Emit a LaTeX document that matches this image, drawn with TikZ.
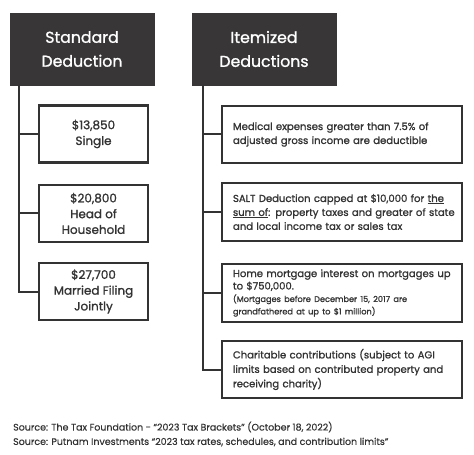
\documentclass[tikz,border=0pt]{standalone}
\usepackage{fontspec}
\setmainfont{Poppins}[FakeBold=1.2]
\newfontfamily\srcfont{Poppins}[FakeBold=0.5]
\definecolor{hdr}{HTML}{383636}
\definecolor{ink}{HTML}{333333}
\begin{document}
\begin{tikzpicture}[x=1bp,y=-1bp,
  hdrbox/.style={fill=hdr, draw=hdr, minimum width=144bp, minimum height=72bp, text=white,
    font=\fontsize{15.8}{24}\selectfont, align=center, inner sep=0pt},
  lbox/.style={draw=ink, line width=2.6bp, fill=white, minimum width=109bp, minimum height=57bp,
    font=\fontsize{12}{15.8}\selectfont, align=center, text=ink, inner sep=0pt},
  rbox/.style={draw=ink, line width=2.6bp, fill=white, minimum width=240bp, minimum height=57bp,
    text width=218bp, inner xsep=11bp, inner ysep=0pt, align=left, text=ink,
    font=\fontsize{10.1}{14}\selectfont},
  conn/.style={draw=ink, line width=2bp},
  src/.style={anchor=west, text=ink, font=\srcfont\fontsize{9.5}{11}\selectfont, inner sep=0pt}]
\useasboundingbox (0,0) rectangle (474,455);
% headers
\node[hdrbox] (hl) at (82,49) {Standard\\Deduction};
\node[hdrbox] (hr) at (264,49) {Itemized\\Deductions};
\coordinate (tl) at (19,85);
\coordinate (tr) at (203,85);
% left boxes
\node[lbox] (l1) at (93.5,134) {\$13,850\\Single};
\node[lbox] (l2) at (93.5,213.5) {\$20,800\\Head of\\Household};
\node[lbox] (l3) at (93.5,291.5) {\$27,700\\Married Filing\\Jointly};
% right boxes
\node[rbox] (r1) at (342,134.5) {\mbox{Medical expenses greater than 7.5\% of}\\\mbox{adjusted gross income are deductible}};
\node[rbox, minimum height=58bp] (r2) at (342,212) {\mbox{SALT Deduction capped at \$10,000 for \underline{the}}\\\mbox{\underline{sum of}: property taxes and greater of state}\\\mbox{and local income tax or sales tax}};
\node[rbox, minimum height=58bp, font=\fontsize{10.1}{12.5}\selectfont] (r3) at (342,293) {\mbox{Home mortgage interest on mortgages up}\\\mbox{to \$750,000.}\\{\fontsize{8.2}{12.5}\selectfont \mbox{(Mortgages before December 15, 2017 are}\\\mbox{grandfathered at up to \$1 million)}}};
\node[rbox, font=\fontsize{10.1}{14.5}\selectfont] (r4) at (342,369.5) {\mbox{Charitable contributions (subject to AGI}\\\mbox{limits based on contributed property and}\\\mbox{receiving charity)}};
% connectors
\draw[conn] (tl) |- (l1.west);
\draw[conn] (tl) |- (l2.west);
\draw[conn] (tl) |- (l3.west);
\draw[conn] (tr) |- (r1.west);
\draw[conn] (tr) |- (r2.west);
\draw[conn] (tr) |- (r3.west);
\draw[conn] (tr) |- (r4.west);
% sources
\node[src] (s1) at (13,427) {Source: The Tax Foundation - “2023 Tax Brackets” (October 18, 2022)};
\node[src] (s2) at (13,442) {Source: Putnam Investments “2023 tax rates, schedules, and contribution limits”};
\end{tikzpicture}
\end{document}
